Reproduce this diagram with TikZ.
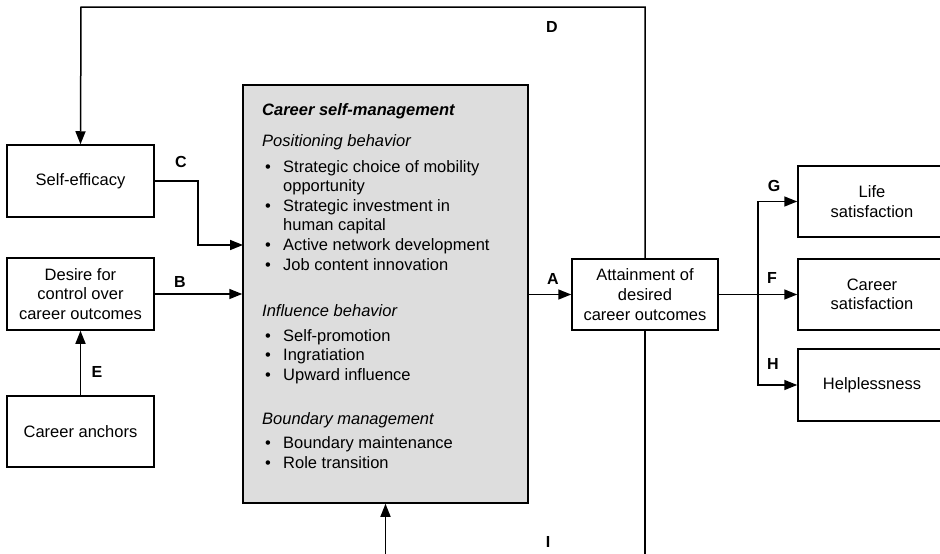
\documentclass[tikz,border=0pt]{standalone}
\usepackage{fontspec}
\setmainfont{Liberation Sans}
\usetikzlibrary{arrows.meta}
\definecolor{boxgray}{RGB}{221,221,221}
\newcommand{\fs}{\fontsize{16.5}{19.6}\selectfont}
\tikzset{
  box/.style={draw, line width=1.5pt, fill=white, minimum width=147pt, minimum height=72pt,
    align=center, inner sep=0pt, font=\fs},
  arr/.style={line width=1.5pt, -{Triangle[length=13pt,width=10pt]}},
  lbl/.style={font=\fontsize{16}{18}\selectfont\bfseries, inner sep=0pt},
  txt/.style={anchor=base west, inner sep=0pt, font=\fs},
  bul/.style={anchor=base west, inner sep=0pt, font=\fs},
}
\begin{document}
\begin{tikzpicture}[x=1pt,y=-1pt]
\useasboundingbox (0,0) rectangle (940,554);

% boxes
\node[box] (se) at (80.5,181) {Self-efficacy};
\node[box] (des) at (80.5,294) {Desire for\\control over\\career outcomes};
\node[box, minimum height=71pt] (anc) at (80.5,431.5) {Career anchors};
\node[draw, line width=1.5pt, fill=boxgray, minimum width=285pt, minimum height=418pt, inner sep=0pt] (csm) at (385.5,294) {};
\node[box, minimum width=146pt, minimum height=71pt] (att) at (645,294.5) {Attainment of\\desired\\career outcomes};
\node[box, minimum width=148pt, minimum height=71pt] (life) at (872,201.5) {Life\\satisfaction};
\node[box, minimum width=148pt, minimum height=71pt] (car) at (872,294.5) {Career\\satisfaction};
\node[box, minimum width=148pt, minimum height=72pt] (help) at (872,385) {Helplessness};

% text inside central box
\node[txt, font=\fs\bfseries\itshape] (t0) at (262,115) {Career self-management};
\node[txt, font=\fs\itshape] (t1) at (262,146) {Positioning behavior};
\node[bul] (b1) at (265,172) {•};
\node[txt] (t2) at (283,172) {Strategic choice of mobility};
\node[txt] (t3) at (283,191.6) {opportunity};
\node[bul] (b2) at (265,211.2) {•};
\node[txt] (t4) at (283,211.2) {Strategic investment in};
\node[txt] (t5) at (283,230.8) {human capital};
\node[bul] (b3) at (265,250.4) {•};
\node[txt] (t6) at (283,250.4) {Active network development};
\node[bul] (b4) at (265,270) {•};
\node[txt] (t7) at (283,270) {Job content innovation};
\node[txt, font=\fs\itshape] (t8) at (262,316) {Influence behavior};
\node[bul] (b5) at (265,341) {•};
\node[txt] (t9) at (283,341) {Self-promotion};
\node[bul] (b6) at (265,360.6) {•};
\node[txt] (t10) at (283,360.6) {Ingratiation};
\node[bul] (b7) at (265,380.2) {•};
\node[txt] (t11) at (283,380.2) {Upward influence};
\node[txt, font=\fs\itshape] (t12) at (262,424) {Boundary management};
\node[bul] (b8) at (265,448.5) {•};
\node[txt] (t13) at (283,448.5) {Boundary maintenance};
\node[bul] (b9) at (265,468) {•};
\node[txt] (t14) at (283,468) {Role transition};

% coordinates
\coordinate (dtr) at (645,7);
\coordinate (dtl) at (81,7);
\coordinate (cmid) at (198,181);
\coordinate (cin) at (243,245);
\coordinate (br) at (758,294.5);
\coordinate (ibot) at (645,575);

% connectors
\draw[arr] (att.north) -- (dtr) -- (dtl) -- (se.north);
\draw[arr] (se.east) -- (cmid) |- (cin);
\draw[arr] (des.east) -- (des.east -| csm.west);
\draw[arr] (anc.north) -- (des.south);
\draw[arr] (csm.east |- att.west) -- (att.west);
\draw[arr] (att.east) -- (car.west);
\draw[arr] (br) |- (life.west);
\draw[arr] (br) |- (help.west);
\draw[arr] (att.south) -- (ibot) -| (csm.south);

% labels
\node[lbl] (lD) at (552,27) {D};
\node[lbl] (lC) at (181,162) {C};
\node[lbl] (lB) at (180,282) {B};
\node[lbl] (lE) at (97,372) {E};
\node[lbl] (lA) at (553,279) {A};
\node[lbl] (lG) at (774,186) {G};
\node[lbl] (lF) at (772,278) {F};
\node[lbl] (lH) at (773,364) {H};
\node[lbl] (lI) at (548,542) {I};
\end{tikzpicture}
\end{document}
